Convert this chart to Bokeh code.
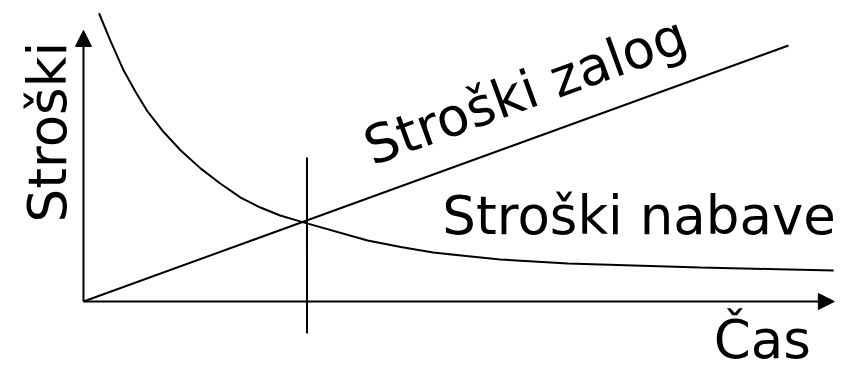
from bokeh.plotting import figure
from bokeh.models import Range1d, Arrow, NormalHead, ColumnDataSource
from bokeh.core.properties import value
from bokeh.embed import file_html
from bokeh.resources import INLINE
import math

# ---- data (conceptual units: time on x, cost on y) ----
inventory_x = [0.0, 10.0]
inventory_y = [0.0, 10.0]

order_x = [0.22, 0.38, 0.57, 0.74, 0.90, 1.14, 1.38, 1.66, 1.94, 2.23, 2.51, 2.79,
           3.12, 4.03, 4.50, 4.96, 5.91, 6.87, 7.80, 8.75, 9.70, 10.64]
order_y = [11.26, 10.20, 9.02, 8.18, 7.46, 6.61, 5.90, 5.20, 4.61, 4.06, 3.67, 3.36,
           3.09, 2.38, 2.13, 1.91, 1.64, 1.48, 1.41, 1.33, 1.27, 1.21]

optimum_x = [3.17, 3.17]
optimum_y = [5.63, -1.25]

axis_x_end = 10.65
axis_y_end = 10.59

labels = ["Stroški", "Stroški nabave", "Stroški zalog", "Čas"]
label_x = [-0.51, 5.09, 4.01, 8.94]
label_y = [3.09, 3.36, 5.98, -1.48]
label_angle = [math.pi / 2, 0.0, math.radians(20.0), 0.0]

# ---- figure ----
p = figure(width=848, height=366, output_backend="svg", toolbar_location=None,
           x_range=Range1d(-1.177, 10.851), y_range=Range1d(-2.539, 11.758),
           x_axis_type=None, y_axis_type=None, min_border=0)
p.outline_line_color = None
p.background_fill_color = "white"
p.border_fill_color = "white"

# axes with arrow heads
p.add_layout(Arrow(x_start=0, y_start=0, x_end=axis_x_end, y_end=0,
                   line_width=2, line_color="black",
                   end=NormalHead(size=16, fill_color="black", line_color="black", line_width=1)))
p.add_layout(Arrow(x_start=0, y_start=0, x_end=0, y_end=axis_y_end,
                   line_width=2, line_color="black",
                   end=NormalHead(size=16, fill_color="black", line_color="black", line_width=1)))

p.line(inventory_x, inventory_y, line_width=2, line_color="black")
p.line(order_x, order_y, line_width=2, line_color="black")
p.line(optimum_x, optimum_y, line_width=2, line_color="black")

src = ColumnDataSource(dict(x=label_x, y=label_y, text=labels, angle=label_angle))
p.text(x="x", y="y", text="text", angle="angle", source=src,
       text_font=value("DejaVu Sans"), text_font_size="53px",
       text_color="black", text_align="left", text_baseline="alphabetic")

open("out.html", "w").write(file_html(p, INLINE))
